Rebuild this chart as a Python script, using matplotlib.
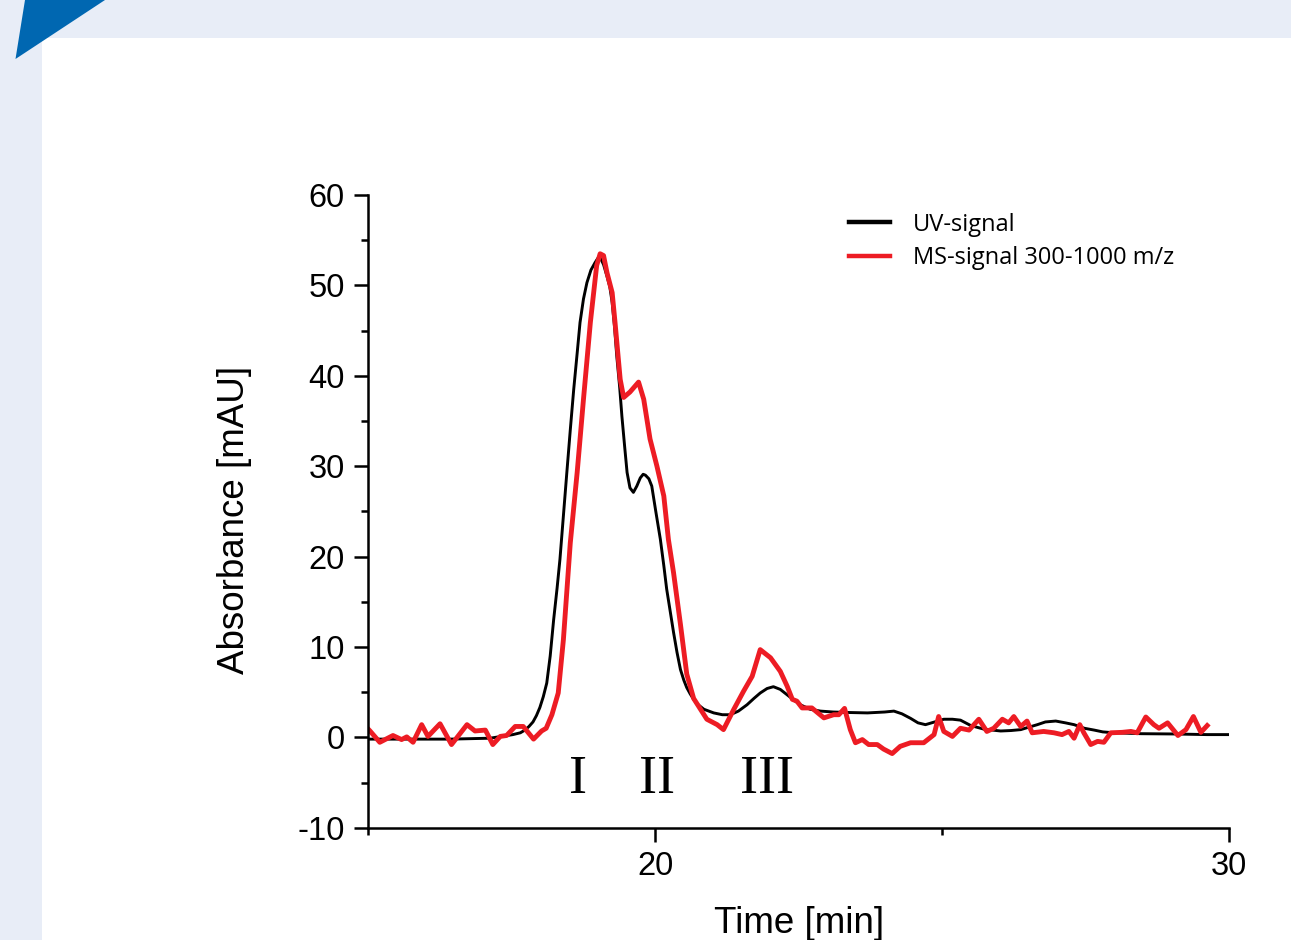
import matplotlib
matplotlib.use("Agg")
import matplotlib.pyplot as plt
from matplotlib.patches import Rectangle, Polygon
from matplotlib.lines import Line2D

plt.rcParams["axes.unicode_minus"] = False

# UV trace (black)
uv_time = [15.0, 15.55, 16.43, 17.12, 17.52, 17.65, 17.73, 17.80, 17.87, 17.93,
           17.99, 18.05, 18.11, 18.17, 18.23, 18.29, 18.34, 18.40, 18.46, 18.52,
           18.58, 18.64, 18.69, 18.75, 18.81, 18.88, 18.95, 19.00, 19.04, 19.10,
           19.16, 19.21, 19.25, 19.29, 19.33, 19.38, 19.42, 19.47, 19.51, 19.56,
           19.62, 19.68, 19.74, 19.79, 19.83, 19.89, 19.94, 20.01, 20.09, 20.15,
           20.20, 20.26, 20.32, 20.38, 20.44, 20.50, 20.55, 20.61, 20.67, 20.73,
           20.85, 21.02, 21.17, 21.31, 21.45, 21.60, 21.72, 21.83, 21.95, 22.06,
           22.18, 22.30, 22.42, 22.53, 22.70, 22.88, 23.10, 23.34, 23.70, 24.00,
           24.16, 24.30, 24.45, 24.58, 24.71, 24.87, 25.03, 25.18, 25.32, 25.50,
           25.73, 26.02, 26.20, 26.37, 26.50, 26.66, 26.80, 26.98, 27.15, 27.30,
           27.48, 27.65, 27.80, 28.00, 28.47, 29.04, 29.62, 30.0]
uv_abs = [-0.2, -0.2, -0.2, -0.1, 0.3, 0.5, 0.8, 1.2, 1.7, 2.4,
          3.3, 4.5, 6.0, 9.0, 13.0, 16.5, 19.7, 24.5, 29.3, 34.0,
          38.5, 42.5, 45.9, 48.5, 50.3, 51.7, 52.5, 53.0, 53.1, 52.3,
          51.0, 49.8, 48.1, 45.5, 42.2, 38.8, 35.5, 32.0, 29.3, 27.6,
          27.1, 27.8, 28.7, 29.1, 29.0, 28.6, 27.8, 25.0, 21.9, 19.0,
          16.4, 14.0, 11.6, 9.4, 7.5, 6.3, 5.5, 4.8, 4.2, 3.7,
          3.1, 2.7, 2.5, 2.5, 2.9, 3.6, 4.3, 4.9, 5.4, 5.6,
          5.3, 4.7, 4.1, 3.6, 3.1, 2.9, 2.8, 2.75, 2.7, 2.8,
          2.9, 2.6, 2.1, 1.6, 1.4, 1.7, 2.0, 2.0, 1.9, 1.3,
          0.9, 0.7, 0.75, 0.85, 1.1, 1.4, 1.7, 1.8, 1.6, 1.4,
          1.0, 0.8, 0.6, 0.5, 0.4, 0.37, 0.3, 0.3]

# MS trace (red), 300-1000 m/z
ms_time = [15.0, 15.03, 15.20, 15.43, 15.58, 15.67, 15.78, 15.93, 16.04, 16.25,
           16.45, 16.72, 16.86, 17.04, 17.17, 17.30, 17.41, 17.56, 17.70, 17.88,
           18.02, 18.10, 18.20, 18.31, 18.40, 18.52, 18.64, 18.75, 18.87, 18.98,
           19.04, 19.10, 19.16, 19.25, 19.30, 19.39, 19.45, 19.56, 19.71, 19.80,
           19.91, 20.03, 20.15, 20.23, 20.32, 20.44, 20.55, 20.67, 20.79, 20.90,
           21.08, 21.19, 21.37, 21.54, 21.69, 21.83, 22.01, 22.18, 22.30, 22.39,
           22.47, 22.56, 22.73, 22.94, 23.11, 23.20, 23.30, 23.40, 23.49, 23.61,
           23.72, 23.87, 23.98, 24.13, 24.27, 24.45, 24.68, 24.86, 24.94, 25.03,
           25.18, 25.32, 25.47, 25.64, 25.78, 25.90, 26.05, 26.16, 26.25, 26.37,
           26.48, 26.57, 26.77, 26.95, 27.09, 27.21, 27.30, 27.40, 27.47, 27.59,
           27.71, 27.82, 27.94, 28.14, 28.29, 28.40, 28.55, 28.69, 28.78, 28.93,
           29.11, 29.25, 29.38, 29.51, 29.62]
ms_abs = [0.9, 0.7, -0.55, 0.2, -0.25, 0.05, -0.55, 1.4, 0.1, 1.5,
          -0.8, 1.4, 0.7, 0.8, -0.8, 0.1, 0.2, 1.2, 1.2, -0.2,
          0.7, 1.0, 2.5, 4.9, 10.8, 21.5, 29.3, 37.4, 45.9, 52.2,
          53.5, 53.3, 51.4, 49.2, 45.9, 39.6, 37.6, 38.2, 39.3, 37.4,
          33.0, 30.0, 26.7, 21.9, 18.2, 12.5, 7.0, 4.3, 3.1, 2.0,
          1.4, 0.85, 3.1, 5.1, 6.75, 9.7, 8.8, 7.3, 5.65, 4.2,
          4.0, 3.25, 3.25, 2.15, 2.5, 2.5, 3.2, 0.85, -0.6, -0.25,
          -0.8, -0.8, -1.3, -1.8, -1.0, -0.6, -0.6, 0.3, 2.3, 0.65,
          0.1, 1.0, 0.8, 2.0, 0.65, 1.0, 2.0, 1.6, 2.3, 1.2,
          1.8, 0.5, 0.65, 0.5, 0.3, 0.65, -0.1, 1.4, 0.5, -0.8,
          -0.45, -0.55, 0.5, 0.55, 0.65, 0.5, 2.25, 1.4, 1.0, 1.6,
          0.2, 0.85, 2.3, 0.55, 1.3]

peak_names = ["I", "II", "III"]
peak_times = [18.66, 20.03, 21.95]

W, H = 1291, 940
fig = plt.figure(figsize=(W / 100, H / 100), dpi=100)
fig.patch.set_facecolor("#e8edf7")
fig.add_artist(Rectangle((42 / W, 0), 1 - 42 / W, 1 - 38 / H, transform=fig.transFigure,
                         facecolor="white", edgecolor="none", zorder=0))
fig.add_artist(Polygon([(25 / W, 1.0), (105 / W, 1.0), (15.5 / W, 1 - 59 / H)],
                       closed=True, transform=fig.transFigure,
                       facecolor="#0067b1", edgecolor="none", zorder=1))

ax = fig.add_axes([368.3 / W, 1 - 827.7 / H, (1229 - 368.3) / W, (827.7 - 195) / H])
ax.patch.set_alpha(0)

ax.plot(uv_time, uv_abs, color="black", lw=2.1, solid_joinstyle="round")
ax.plot(ms_time, ms_abs, color="#ed1c24", lw=3.5, solid_joinstyle="round")

for name, t in zip(peak_names, peak_times):
    ax.text(t, -4.7, name, ha="center", va="center",
            family="Liberation Serif", fontsize=39)

ax.set_xlim(15, 30)
ax.set_ylim(-10, 60)
ax.set_xticks([20, 30])
ax.set_xticks([15, 25], minor=True)
ax.set_yticks(range(-10, 61, 10))
ax.set_yticks(range(-5, 60, 10), minor=True)

for s in ["top", "right"]:
    ax.spines[s].set_visible(False)
for s in ["left", "bottom"]:
    ax.spines[s].set_linewidth(1.8)

ax.tick_params(which="major", length=10, width=1.8, labelsize=23.5, pad=7)
ax.tick_params(which="minor", length=5, width=1.8)
for lab in ax.get_xticklabels() + ax.get_yticklabels():
    lab.set_family("Liberation Sans")

ax.set_xlabel("Time [min]", family="Liberation Sans", fontsize=26.5)
ax.set_ylabel("Absorbance [mAU]", family="Liberation Sans", fontsize=26.5)
ax.xaxis.set_label_coords(0.5, -0.124)
ax.yaxis.set_label_coords(-0.135, 0.486)

handles = [Line2D([], [], color="black", lw=3.2), Line2D([], [], color="#ed1c24", lw=3.2)]
ax.legend(handles, ["UV-signal", "MS-signal 300-1000 m/z"], loc="upper left",
          bbox_to_anchor=(0.5585, 0.972), frameon=False, borderpad=0, borderaxespad=0,
          handlelength=1.75, handletextpad=0.95, labelspacing=0.39,
          prop={"family": "Open Sans", "size": 17})

fig.savefig("out.png", dpi=100, facecolor=fig.get_facecolor())
